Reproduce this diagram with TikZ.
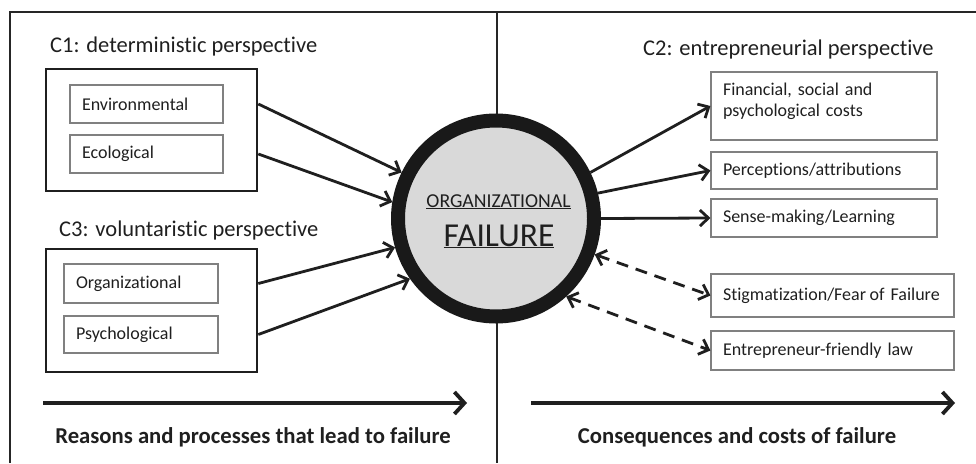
\documentclass[tikz,border=0pt]{standalone}
\usepackage{fontspec}
\setmainfont{Carlito}[Ligatures=NoCommon]
\usetikzlibrary{arrows.meta}
\newcommand{\headfont}{\fontsize{22.5}{27}\selectfont}
\newcommand{\itemfont}{\fontsize{18}{20.5}\selectfont}
\newcommand{\footfont}{\fontsize{22.7}{26}\selectfont\bfseries}
\newcommand{\orgfont}{\fontsize{19.7}{23}\selectfont}
\newcommand{\failfont}{\fontsize{33.5}{38}\selectfont}
\begin{document}
\begin{tikzpicture}[x=1pt,y=-1pt,
  every node/.style={text=black!88},
  barb/.tip={Straight Barb[length=8.5pt,width=16pt]},
  bigbarb/.tip={Straight Barb[length=10pt,width=22pt]},
  frame/.style={draw=black!85,line width=2pt},
  group/.style={draw=black!88,line width=2.6pt,minimum width=211pt,inner sep=0pt},
  item/.style={draw=black!50,line width=1.1pt,inner xsep=12pt,inner ysep=0pt,
    align=left,font=\itemfont},
  heading/.style={anchor=base west,inner sep=0pt,font=\headfont},
  conn/.style={draw=black!88,line width=2.8pt,-barb},
  dconn/.style={draw=black!88,line width=2.8pt,barb-barb,dash pattern=on 12pt off 8pt},
  axis/.style={draw=black!88,line width=3.8pt,-bigbarb},
  caption/.style={font=\footfont,inner sep=0pt,anchor=base}]
\useasboundingbox (0,0) rectangle (976,463);

% outer frame and the dividing line
\draw[frame] (10,463) -- (10,12) -- (976,12);
\draw[frame] (497,12) -- (497,463);

% left half: reasons
\node[heading] (c1h) at (50,52) {C1: deterministic perspective};
\node[group,minimum height=122pt] (c1) at (151.5,130) {};
\node[item,text width=129pt,minimum height=38pt] (env) at (146.5,104) {Environmental};
\node[item,text width=129pt,minimum height=38pt] (eco) at (146.5,154) {Ecological};

\node[heading] (c3h) at (59,236.5) {C3: voluntaristic perspective};
\node[group,minimum height=123pt] (c3) at (151.5,310.5) {};
\node[item,text width=130pt,minimum height=39pt] (org) at (141,283.5) {Organizational};
\node[item,text width=130pt,minimum height=37pt] (psy) at (141,334.5) {Psychological};

% central concept
\node[circle,draw=black!90,line width=14pt,fill=black!15,minimum size=196pt,inner sep=0pt]
  (fail) at (496,218.5) {};
\node[font=\orgfont,anchor=base,inner sep=0pt] (failA) at (498.5,207) {\underline{ORGANIZATIONAL}};
\node[font=\failfont,anchor=base,inner sep=0pt] (failB) at (499,246) {\underline{FAILURE}};

% right half: consequences
\node[heading] (c2h) at (643,55) {C2: entrepreneurial perspective};
\node[item,text width=202pt,minimum height=68pt] (fin) at (824,106)
  {Financial, social and\\psychological costs\\[-8pt]\mbox{}};
\node[item,text width=202pt,minimum height=37pt] (per) at (824,170.5) {Perceptions/attributions};
\node[item,text width=202pt,minimum height=38pt] (sen) at (824,218) {Sense-making/Learning};
\node[item,text width=219pt,minimum height=43pt] (sti) at (832.5,295.5)
  {\mbox{Stigmatization/Fear\hspace{0.2em}of Failure}};
\node[item,text width=219pt,minimum height=39pt] (law) at (832.5,350.5) {Entrepreneur-friendly law};

% influences on failure
\draw[conn] (c1.east |- env) -- (fail.154);
\draw[conn] (c1.east |- eco) -- (fail.171);
\draw[conn] (c3.east |- org) -- (fail.196);
\draw[conn] (c3.east |- psy) -- (fail.215);

% outcomes of failure
\draw[conn] (fail.26.6) -- (fin.west);
\draw[conn] (fail.14) -- (per.west);
\draw[conn] (fail.east) -- (sen.west);
\draw[dconn] (fail.340) -- (sti.west);
\draw[dconn] (fail.312) -- (law.west);

% time axes with captions
\coordinate (ax1s) at (43,403);
\coordinate (ax1e) at (467,403);
\coordinate (ax2s) at (531,403);
\coordinate (ax2e) at (955,403);
\draw[axis] (ax1s) -- (ax1e);
\draw[axis] (ax2s) -- (ax2e);
\node[caption] (cap1) at (253,443) {Reasons and processes that lead to failure};
\node[caption] (cap2) at (737,443) {Consequences and costs of failure};
\end{tikzpicture}
\end{document}
